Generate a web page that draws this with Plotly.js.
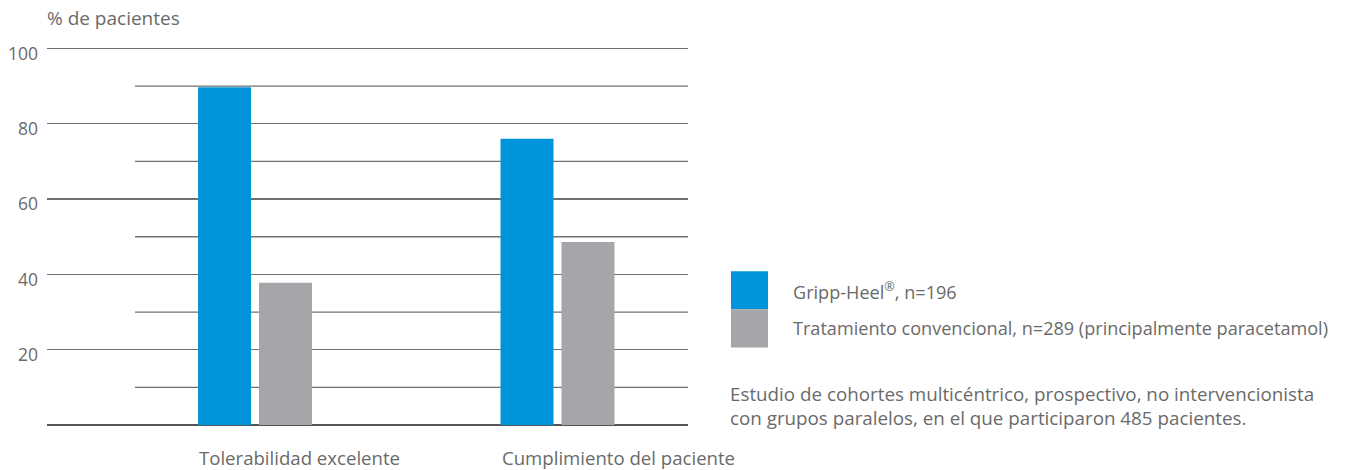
<!DOCTYPE html>
<html>
<head>
<meta charset="utf-8">
<script src="https://cdn.plot.ly/plotly-3.0.1.min.js"></script>
<style>html,body{margin:0;padding:0;background:#fff;}</style>
</head>
<body>
<div id="chart" style="width:1346px;height:470px;"></div>
<script>
// ---- data ----
const categories = ['Tolerabilidad excelente', 'Cumplimiento del paciente'];
const seriesNames = ['Gripp-Heel<sup>®</sup>, n=196', 'Tratamiento convencional, n=289 (principalmente paracetamol)'];
const grippHeel = [89.7, 76];
const convencional = [37.8, 48.6];
const seriesColors = ['#0095DA', '#A5A6A9'];
const majorTicks = [20, 40, 60, 80, 100];
const majorTickText = ['20', '40', '60', '80', '100'];
const minorTicks = [10, 30, 50, 70, 90];
const yTitle = '% de pacientes';
const note = 'Estudio de cohortes multicéntrico, prospectivo, no intervencionista<br>con grupos paralelos, en el que participaron 485 pacientes.';

const FONT = 'Open Sans, sans-serif';
const TXT = '#6a6a6a';
const GRID = '#707070';

const traces = [
  {type: 'bar', x: categories, y: grippHeel, name: seriesNames[0], marker: {color: seriesColors[0]}, hoverinfo: 'y'},
  {type: 'bar', x: categories, y: convencional, name: seriesNames[1], marker: {color: seriesColors[1]}, hoverinfo: 'y'}
];

// plot area: x 47..688, y(0)=425.5, y(100)=48
const PH = 377.5;
const shapes = minorTicks.map(v => ({
  type: 'line', xref: 'paper', yref: 'y', x0: 0.1373, x1: 1, y0: v, y1: v,
  line: {color: GRID, width: 1.3}, layer: 'below'
}));
// manual legend swatches
seriesColors.forEach((c, i) => {
  shapes.push({type: 'rect', xref: 'paper', yref: 'paper',
    x0: (731 - 47) / 641, x1: (768 - 47) / 641,
    y0: (425.5 - (310 + i * 38)) / PH, y1: (425.5 - (272 + i * 38)) / PH,
    fillcolor: c, line: {width: 0}});
});

const annotations = [];
categories.forEach((c, i) => {
  annotations.push({x: c, y: 0, xref: 'x', yref: 'y', text: c, showarrow: false,
    xanchor: 'left', yanchor: 'middle', xshift: -58, yshift: -32,
    font: {family: FONT, size: 18.6, color: TXT}});
});
seriesNames.forEach((n, i) => {
  annotations.push({xref: 'paper', yref: 'paper', x: (791 - 47) / 641, y: (425.5 - (291 + i * 38)) / PH,
    text: n, showarrow: false, xanchor: 'left', yanchor: 'middle',
    font: {family: FONT, size: 18.1, color: TXT}});
});
annotations.push({xref: 'paper', yref: 'paper', x: (728 - 47) / 641, y: (425.5 - 407) / PH,
  text: note, showarrow: false, xanchor: 'left', yanchor: 'middle', align: 'left',
  font: {family: FONT, size: 18.8, color: TXT}});
annotations.push({xref: 'paper', yref: 'paper', x: -0.003, y: (425.5 - 19) / PH,
  text: yTitle, showarrow: false, xanchor: 'left', yanchor: 'middle',
  font: {family: FONT, size: 19, color: TXT}});

const layout = {
  width: 1346, height: 470,
  margin: {l: 47, r: 658, t: 46.5, b: 44.5, pad: 0},
  paper_bgcolor: '#fff', plot_bgcolor: '#fff',
  showlegend: false,
  barmode: 'group', bargap: 0.597, bargroupgap: 0.131,
  font: {family: FONT, color: TXT},
  xaxis: {type: 'category', range: [-0.6876, 1.4314], showticklabels: false, showgrid: false,
    zeroline: false, showline: false, ticks: '', fixedrange: true},
  yaxis: {range: [0, 100.4], tickvals: majorTicks, ticktext: majorTickText, showgrid: true,
    gridcolor: GRID, gridwidth: 1.3, zeroline: true, zerolinecolor: '#555555', zerolinewidth: 2,
    showline: false, ticks: '', ticklabelstandoff: 8, ticklabelshift: 5,
    tickfont: {family: FONT, size: 17.5, color: TXT}, fixedrange: true},
  shapes: shapes,
  annotations: annotations
};

Plotly.newPlot('chart', traces, layout, {displayModeBar: false, staticPlot: true});
</script>
</body>
</html>
